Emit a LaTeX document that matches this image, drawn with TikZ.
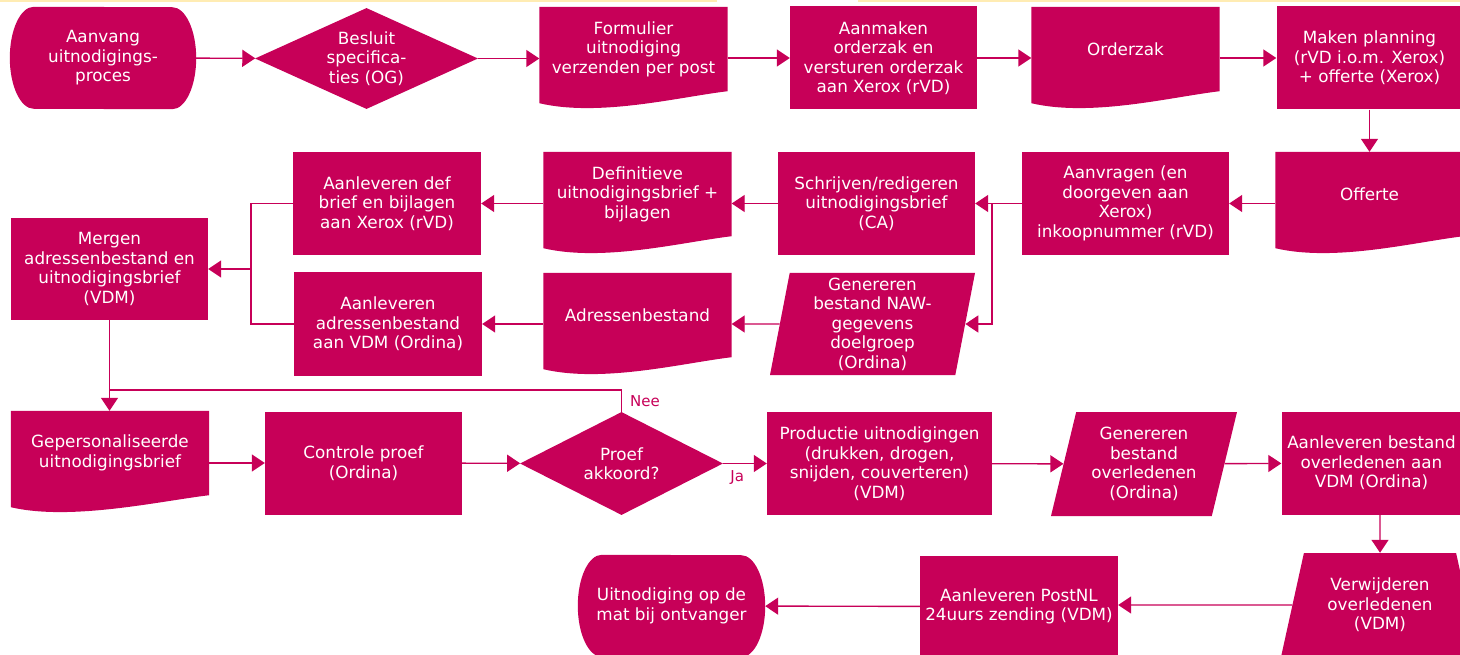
\documentclass[tikz,border=0pt]{standalone}
\usepackage{fontspec}
\setmainfont{DejaVu Sans}
\usetikzlibrary{arrows.meta,shapes.geometric,calc,backgrounds}
\definecolor{vdmred}{RGB}{199,0,88}
\definecolor{topline}{RGB}{255,236,179}

\begin{document}
\begin{tikzpicture}[x=1pt,y=-1pt,
  base/.style={fill=vdmred,text=white,align=center,inner sep=0pt,
    font=\fontsize{16.8}{19.5}\selectfont},
  box/.style={base,rectangle,minimum height=103pt},
  term/.style={base,fill=none,rectangle,minimum width=186pt,minimum height=102pt},
  doc/.style={base,fill=none,rectangle,minimum width=188pt,minimum height=84pt},
  decide/.style={base,diamond,shape aspect=2.2},
  io/.style={base,trapezium,trapezium left angle=78,trapezium right angle=102,
    trapezium stretches body,minimum height=102pt},
  manual/.style={base,trapezium,trapezium left angle=67,trapezium right angle=67,
    trapezium stretches body,minimum height=104pt},
  conn/.style={draw=vdmred,line width=1.4pt},
  arr/.style={conn,-{Triangle[length=13pt,width=17pt]}},
  lbl/.style={text=vdmred,font=\fontsize{15}{17}\selectfont,inner sep=2pt}]
\useasboundingbox (0,0) rectangle (1460,655);
\node[term] (start) at (103,58) {Aanvang\\uitnodigings-\\proces};
\node[decide,minimum width=223pt,minimum height=101pt] (besluit) at (366.5,58.5) {Besluit\\specifica-\\ties (OG)};
\node[doc] (formulier) at (633.5,49) {Formulier\\uitnodiging\\verzenden per post};
\node[box,minimum width=187pt] (aanmaken) at (883.5,58) {Aanmaken\\orderzak en\\versturen orderzak\\aan Xerox (rVD)};
\node[doc] (orderzak) at (1125.5,49) {Orderzak};
\node[box,minimum width=186pt] (planning) at (1369.5,58) {Maken planning\\(rVD i.o.m. Xerox)\\+ offerte (Xerox)};
\node[doc] (offerte) at (1369.5,194) {Offerte};
\node[box,minimum width=207pt] (aanvragen) at (1125.5,203.5) {Aanvragen (en\\doorgeven aan\\Xerox)\\inkoopnummer (rVD)};
\node[box,minimum width=197pt] (schrijven) at (876.5,203.5) {Schrijven/redigeren\\uitnodigingsbrief\\(CA)};
\node[doc] (definitief) at (637.5,194) {Definitieve\\uitnodigingsbrief +\\bijlagen};
\node[box,minimum width=188pt] (aanldef) at (387,203.5) {Aanleveren def\\brief en bijlagen\\aan Xerox (rVD)};
\node[box,minimum width=197pt,minimum height=102pt] (mergen) at (109.5,269) {Mergen\\adressenbestand en\\uitnodigingsbrief\\(VDM)};
\node[io,minimum width=205pt] (naw) at (872.5,324) {Genereren\\bestand NAW-\\gegevens\\doelgroep\\(Ordina)};
\node[doc] (adres) at (637.5,315) {Adressenbestand};
\node[box,minimum width=188pt] (aanladr) at (388,324) {Aanleveren\\adressenbestand\\aan VDM (Ordina)};
\node[doc,minimum width=198pt] (gepers) at (110,453) {Gepersonaliseerde\\uitnodigingsbrief};
\node[box,minimum width=197pt] (controle) at (363.5,463) {Controle proef\\(Ordina)};
\node[decide,minimum width=203pt,minimum height=103pt] (proef) at (621.5,463.5) {Proef\\akkoord?};
\node[box,minimum width=225pt] (productie) at (879.5,463.5) {Productie uitnodigingen\\(drukken, drogen,\\snijden, couverteren)\\(VDM)};
\node[io,trapezium left angle=71,trapezium right angle=109,minimum width=186pt,minimum height=104pt] (overleden) at (1144,464) {Genereren\\bestand\\overledenen\\(Ordina)};
\node[box,minimum width=180pt] (aanloverl) at (1371.5,463) {Aanleveren bestand\\overledenen aan\\VDM (Ordina)};
\node[manual,minimum width=198pt] (verwijder) at (1380,605) {Verwijderen\\overledenen\\(VDM)};
\node[box,minimum width=198pt,minimum height=101pt] (postnl) at (1019,606.5) {Aanleveren PostNL\\24uurs zending (VDM)};
\node[term,minimum width=187pt] (einde) at (671.5,606) {Uitnodiging op de\\mat bij ontvanger};
\begin{scope}[on background layer]
\draw[topline,line width=2pt] (0,1) -- (717,1) (858,1) -- (1460,1);
\foreach \d in {formulier,orderzak,offerte,definitief,adres,gepers}
  \fill[vdmred] (\d.north west) -- (\d.north east) -- (\d.south east)
    .. controls ($(\d.south east)+(-50,6)$) and ($(\d.south west)+(60,26)$)
    .. ($(\d.south west)+(0,12)$) -- cycle;
\foreach \t in {start,einde}
  \fill[vdmred] ($(\t.north west)+(24,0)$) arc[start angle=90,end angle=270,x radius=24pt,y radius=51pt]
    -- ($(\t.south east)+(-24,0)$) arc[start angle=-90,end angle=90,x radius=24pt,y radius=51pt] -- cycle;
\end{scope}
\coordinate (split) at (992,203.5);
\coordinate (join) at (251,269);
\coordinate (terug) at (621.5,390);
\draw[arr] (start) -- (besluit);
\draw[arr] (besluit) -- (besluit -| formulier.west);
\draw[arr] (formulier.east |- aanmaken) -- (aanmaken);
\draw[arr] (aanmaken) -- (aanmaken -| orderzak.west);
\draw[arr] (orderzak.east |- planning) -- (planning);
\draw[arr] (planning) -- (planning |- offerte.north);
\draw[arr] (offerte.west |- aanvragen) -- (aanvragen);
\draw[arr] (aanvragen) -- (schrijven);
\draw[arr] (split) |- (naw);
\draw[arr] (schrijven) -- (schrijven -| definitief.east);
\draw[arr] (definitief.west |- aanldef) -- (aanldef);
\draw[conn] (aanldef) -| (join) |- (aanladr);
\draw[arr] (join) -- (mergen);
\draw[arr] (naw) -- (naw -| adres.east);
\draw[arr] (adres.west |- aanladr) -- (aanladr);
\draw[arr] (mergen) -- (mergen |- gepers.north);
\draw[conn] (proef) -- node[lbl,right=6pt]{Nee} (terug) -| (mergen.south);
\draw[arr] (gepers.east |- controle) -- (controle);
\draw[arr] (controle) -- (proef);
\draw[arr] (proef) -- node[lbl,below,pos=0.32,yshift=-4pt]{Ja} (productie);
\draw[arr] (productie) -- (overleden);
\draw[arr] (overleden) -- (aanloverl);
\draw[arr] (verwijder.north |- aanloverl.south) -- (verwijder);
\draw[arr] (verwijder) -- (verwijder -| postnl.east);
\draw[arr] (postnl) -- (einde);
\end{tikzpicture}
\end{document}
